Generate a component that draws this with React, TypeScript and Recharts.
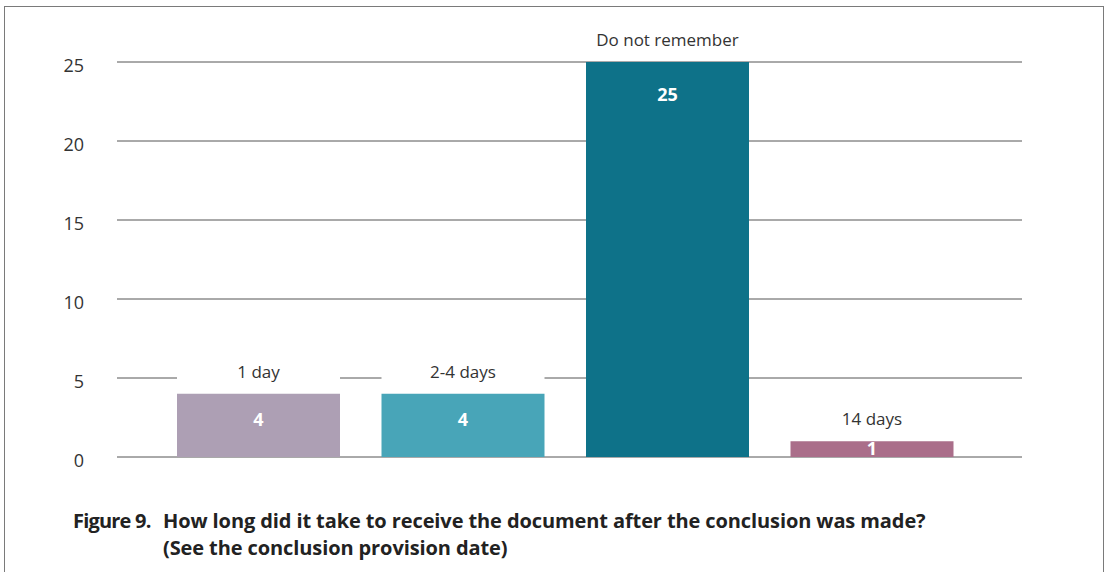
import React from "react";
import { BarChart, Bar, XAxis, YAxis, CartesianGrid, LabelList, Cell } from "recharts";

const categories = ["1 day", "2-4 days", "Do not remember", "14 days"];
const values = [4, 4, 25, 1];
const barColors = ["#ad9fb4", "#48a5b8", "#0e7289", "#aa6e8a"];
const yTicks = [0, 5, 10, 15, 20, 25];
const titleLabel = "Figure 9.";
const titleLine1 = "How long did it take to receive the document after the conclusion was made?";
const titleLine2 = "(See the conclusion provision date)";

const data = categories.map((name, i) => ({ name, value: values[i] }));

const FONT = "'Open Sans', 'Noto Sans', sans-serif";

const YTick = (props: any) => {
  const { x, y, payload } = props;
  return (
    <text x={x} y={y} dy={10} textAnchor="end" fontSize={18} fill="#333" fontFamily={FONT}>
      {payload.value}
    </text>
  );
};

const renderLabel = (props: any) => {
  const { x, y, width, height, index, value } = props;
  const name = data[index]?.name;
  const cx = x + width / 2;
  const baseline = Math.max(y + Math.min(34, height * 0.43) + 5, y + 14);
  return (
    <g>
      <rect x={x} y={y - 30} width={width} height={29} fill="#fff" />
      <text x={cx} y={y - 22} dy={6} textAnchor="middle" fontSize={17} fill="#333" fontFamily={FONT}>
        {name}
      </text>
      <text x={cx} y={baseline} textAnchor="middle" fontSize={18} fontWeight={700} fill="#fff" fontFamily={FONT}>
        {value}
      </text>
    </g>
  );
};

export default function App() {
  return (
    <div style={{ position: "absolute", left: 0, top: 0, width: 1107, height: 572, overflow: "hidden", background: "#fff", fontFamily: FONT }}>
      <div style={{ position: "absolute", left: 4, top: 6, width: 1100, height: 620, border: "1px solid #7a7a7a", boxSizing: "border-box" }} />
      <div style={{ position: "absolute", left: 0, top: 0 }}>
        <BarChart width={1107} height={480} data={data} margin={{ top: 62, right: 85, bottom: 23, left: 57 }}>
          <CartesianGrid vertical={false} stroke="#555" strokeWidth={1} />
          <XAxis dataKey="name" hide padding={{ left: 39, right: 48 }} />
          <YAxis
            domain={[0, 25]}
            ticks={yTicks}
            width={60}
            axisLine={false}
            tickLine={false}
            tickSize={0}
            tickMargin={33}
            tick={<YTick />}
            interval={0}
          />
          <Bar dataKey="value" barSize={163} isAnimationActive={false}>
            {data.map((d, i) => (
              <Cell key={d.name} fill={barColors[i]} />
            ))}
            <LabelList dataKey="value" content={renderLabel} />
          </Bar>
        </BarChart>
      </div>
      <div style={{ position: "absolute", left: 73, top: 507, display: "flex", fontWeight: 700, fontSize: 20, color: "#222", lineHeight: "27px", letterSpacing: -0.1 }}>
        <div style={{ width: 90, flex: "none", letterSpacing: -0.8 }}>{titleLabel}</div>
        <div>
          <div style={{ whiteSpace: "nowrap" }}>{titleLine1}</div>
          <div style={{ whiteSpace: "nowrap" }}>{titleLine2}</div>
        </div>
      </div>
    </div>
  );
}
